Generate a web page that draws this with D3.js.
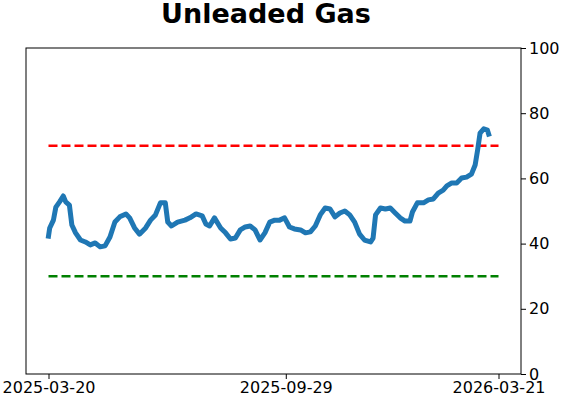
<!DOCTYPE html>
<html>
<head>
<meta charset="utf-8">
<script src="https://cdn.jsdelivr.net/npm/d3@7"></script>
<style>
  body { margin: 0; background: #fff; }
  svg text { font-family: "DejaVu Sans", sans-serif; }
</style>
</head>
<body>
<div id="chart"></div>
<script>
var dates = [
  "2025-03-20","2025-03-21","2025-03-24","2025-03-26","2025-03-29","2025-04-01","2025-04-03","2025-04-06",
  "2025-04-08","2025-04-11","2025-04-15","2025-04-19","2025-04-23","2025-04-27","2025-05-01","2025-05-05",
  "2025-05-09","2025-05-13","2025-05-17","2025-05-22","2025-05-25","2025-05-29","2025-06-02","2025-06-07",
  "2025-06-11","2025-06-15","2025-06-19","2025-06-23","2025-06-25","2025-06-28","2025-07-03","2025-07-09",
  "2025-07-13","2025-07-18","2025-07-23","2025-07-26","2025-07-29","2025-08-02","2025-08-07","2025-08-11",
  "2025-08-15","2025-08-19","2025-08-23","2025-08-27","2025-08-31","2025-09-04","2025-09-08","2025-09-12",
  "2025-09-16","2025-09-20","2025-09-24","2025-09-28","2025-10-02","2025-10-06","2025-10-11","2025-10-15",
  "2025-10-19","2025-10-23","2025-10-27","2025-10-31","2025-11-04","2025-11-08","2025-11-12","2025-11-16",
  "2025-11-20","2025-11-24","2025-11-28","2025-12-02","2025-12-07","2025-12-09","2025-12-11","2025-12-15",
  "2025-12-19","2025-12-23","2025-12-27","2025-12-31","2026-01-04","2026-01-08","2026-01-10","2026-01-14",
  "2026-01-19","2026-01-23","2026-01-27","2026-01-31","2026-02-04","2026-02-07","2026-02-11","2026-02-15",
  "2026-02-19","2026-02-23","2026-02-27","2026-03-02","2026-03-04","2026-03-06","2026-03-09","2026-03-12",
  "2026-03-13"
];
var values = [
  42.3,44.8,47.2,51.2,52.8,54.6,52.8,51.8,
  45.7,43.3,41.1,40.5,39.6,40.2,39.0,39.3,
  42.0,46.6,48.2,49.1,47.9,44.8,42.9,44.8,
  47.2,48.8,52.5,52.5,46.6,45.4,46.6,47.2,
  47.9,49.1,48.5,46.0,45.4,47.9,44.8,43.3,
  41.4,41.7,44.2,45.1,45.4,44.2,41.1,43.3,
  46.6,47.2,47.2,47.9,45.1,44.5,44.2,43.3,
  43.6,45.4,48.8,50.9,50.6,48.2,49.4,50.0,
  48.8,46.6,42.9,41.1,40.5,41.7,48.8,50.9,
  50.6,50.9,49.4,47.9,46.9,46.9,49.7,52.5,
  52.5,53.4,53.7,55.5,56.4,57.7,58.6,58.6,
  60.1,60.4,61.3,64.1,68.7,73.9,75.2,74.8,
  73.6
];
var xRange = ["2025-03-20", "2026-03-21"];
var xTicks = ["2025-03-20", "2025-09-29", "2026-03-21"];
var yTicks = [0, 20, 40, 60, 80, 100];
var upperLevel = 70;
var lowerLevel = 30;
var title = "Unleaded Gas";

var width = 562, height = 402;
var margin = {top: 48, right: 41, bottom: 28, left: 26};
var parse = d3.utcParse("%Y-%m-%d");

var series = dates.map(function(d, i) { return {date: parse(d), value: values[i]}; });

var svg = d3.select("#chart").append("svg")
  .attr("width", width)
  .attr("height", height);

var x0 = parse(xRange[0]), x1 = parse(xRange[1]);
var pad = (x1 - x0) * 0.05;
var x = d3.scaleUtc()
  .domain([new Date(+x0 - pad), new Date(+x1 + pad)])
  .range([margin.left, width - margin.right]);
var y = d3.scaleLinear()
  .domain([0, 100])
  .range([height - margin.bottom, margin.top]);

// threshold lines
svg.append("line")
  .attr("x1", x(x0)).attr("x2", x(x1))
  .attr("y1", y(upperLevel)).attr("y2", y(upperLevel))
  .attr("stroke", "red").attr("stroke-width", 2.5)
  .attr("stroke-dasharray", "9,4");
svg.append("line")
  .attr("x1", x(x0)).attr("x2", x(x1))
  .attr("y1", y(lowerLevel)).attr("y2", y(lowerLevel))
  .attr("stroke", "green").attr("stroke-width", 2.5)
  .attr("stroke-dasharray", "9,4");

// main line
svg.append("path")
  .datum(series)
  .attr("fill", "none")
  .attr("stroke", "#1f77b4")
  .attr("stroke-width", 5)
  .attr("stroke-linejoin", "round")
  .attr("stroke-linecap", "square")
  .attr("d", d3.line().x(function(d) { return x(d.date); }).y(function(d) { return y(d.value); }));

// frame
svg.append("rect")
  .attr("x", margin.left).attr("y", margin.top)
  .attr("width", width - margin.left - margin.right)
  .attr("height", height - margin.top - margin.bottom)
  .attr("fill", "none").attr("stroke", "#000").attr("stroke-width", 1);

// axes
var xAxis = svg.append("g")
  .attr("transform", "translate(0," + (height - margin.bottom) + ")")
  .call(d3.axisBottom(x).tickValues(xTicks.map(parse)).tickFormat(d3.utcFormat("%Y-%m-%d")).tickSize(5).tickPadding(3));
var yAxis = svg.append("g")
  .attr("transform", "translate(" + (width - margin.right) + ",0)")
  .call(d3.axisRight(y).tickValues(yTicks).tickSize(5).tickPadding(3));

[xAxis, yAxis].forEach(function(g) {
  g.select(".domain").remove();
  g.selectAll("text").attr("font-size", 16).attr("fill", "#000")
    .attr("font-family", "DejaVu Sans, sans-serif");
  g.selectAll("line").attr("stroke", "#000");
});

svg.append("text")
  .attr("x", 266).attr("y", 23)
  .attr("text-anchor", "middle")
  .attr("font-size", 27)
  .attr("font-weight", "bold")
  .text(title);
</script>
</body>
</html>
